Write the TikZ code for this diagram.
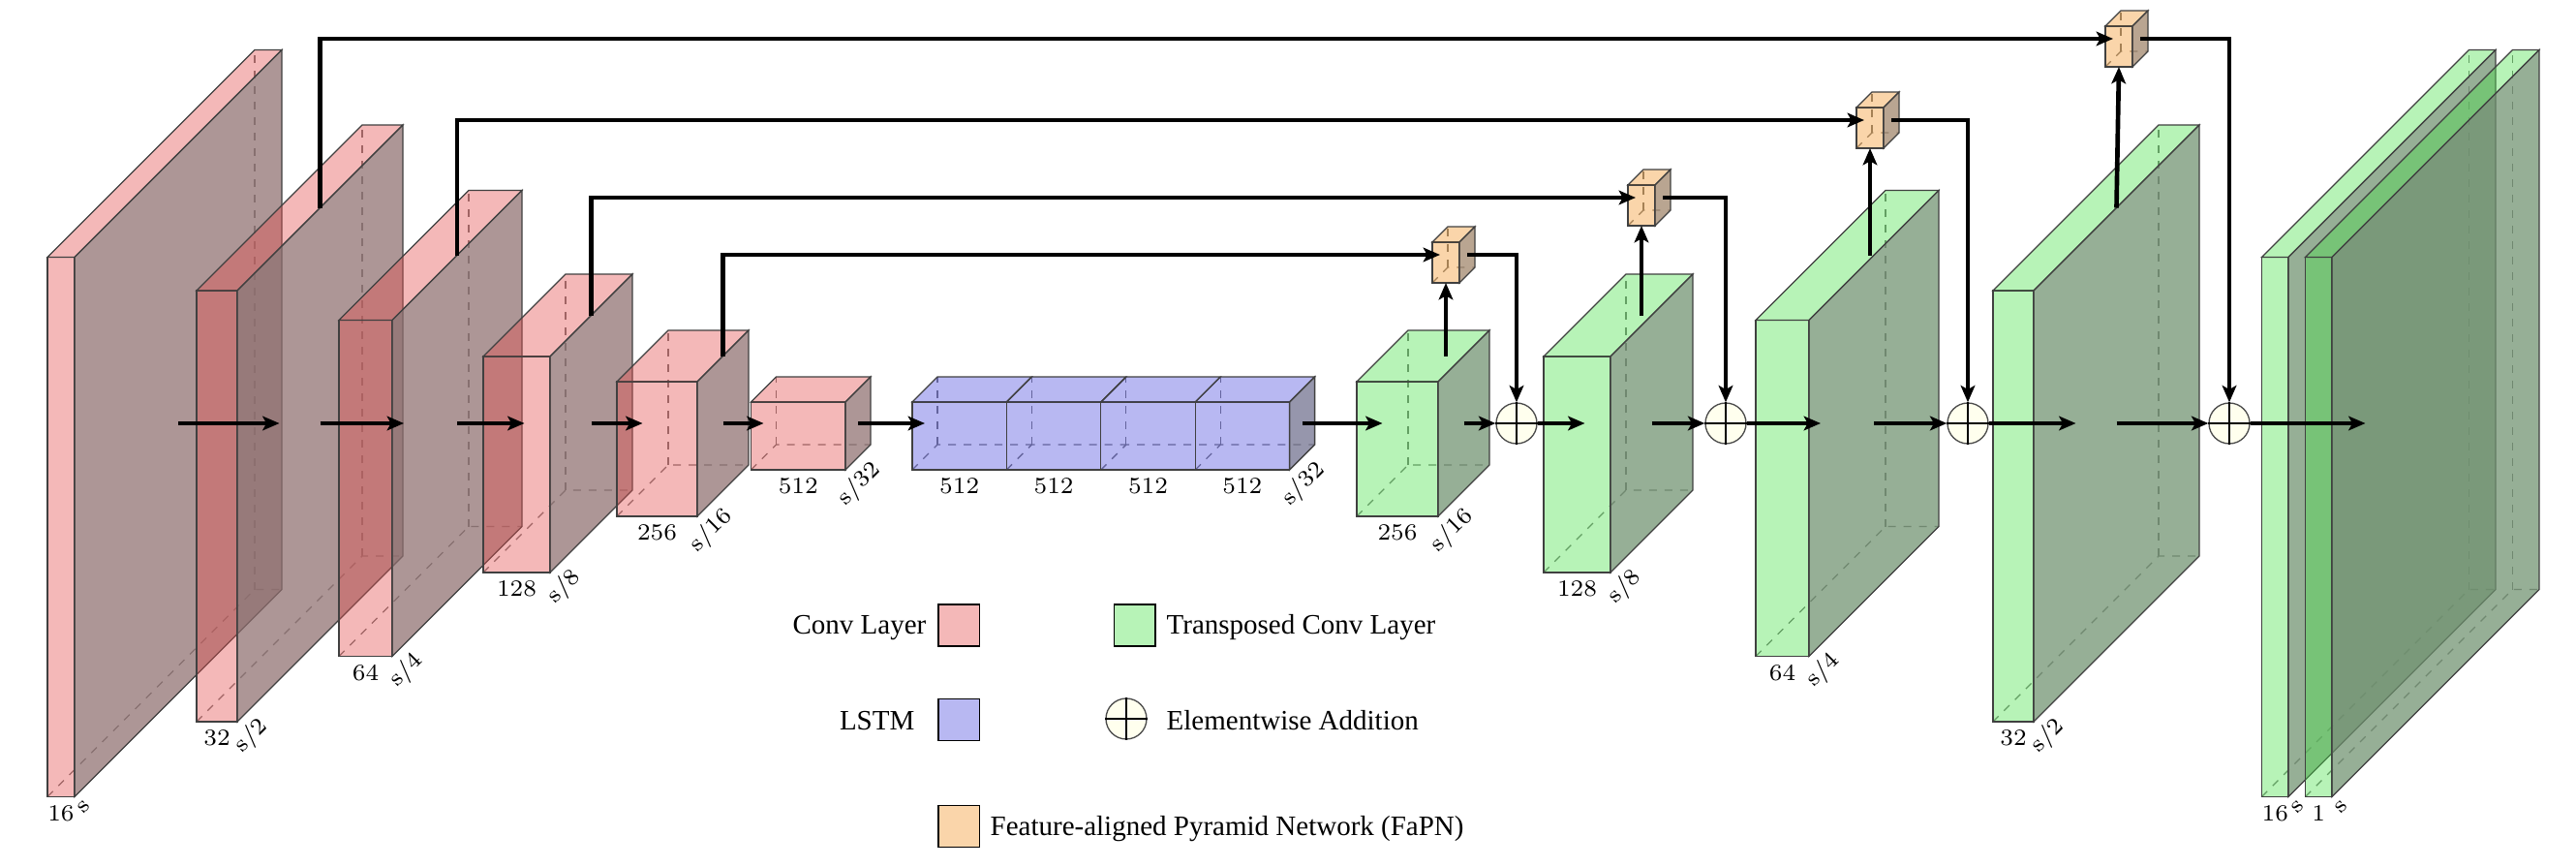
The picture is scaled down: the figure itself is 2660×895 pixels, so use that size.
\documentclass[tikz,border=0pt]{standalone}
\usepackage{fontspec}
\newfontfamily\legendfont{Liberation Serif}
\usetikzlibrary{arrows.meta}

\definecolor{convfront}{RGB}{228,78,78}
\definecolor{convside}{RGB}{143,111,111}
\definecolor{lstmfront}{RGB}{78,78,222}
\definecolor{lstmside}{RGB}{111,111,141}
\definecolor{deconvfront}{RGB}{75,225,75}
\definecolor{deconvside}{RGB}{111,145,111}
\definecolor{fapnfront}{RGB}{242,150,42}
\definecolor{fapnside}{RGB}{159,132,104}
\definecolor{sumfill}{RGB}{255,255,238}

\tikzset{every picture/.style={line width=0.4pt}}
\tikzset{
  face/.style={draw=black!75, fill opacity=0.4},
  sideface/.style={draw=black!75, fill opacity=0.73},
  hidden/.style={draw=black!55, dash pattern=on 2.4pt off 2.4pt},
  conn/.style={line width=1.4pt, -{Stealth[length=5.2pt,width=4.4pt,inset=1.2pt]}},
  dimlabel/.style={anchor=north, inner sep=2.4pt, font=\fontsize{7.2}{8.6}\selectfont},
  sizelabel/.style={dimlabel, rotate=45},
  legendtext/.style={inner sep=0pt, font=\legendfont\fontsize{8.7}{10.4}\selectfont},
  swatch/.style={draw=black, line width=0.5pt, fill opacity=0.4, minimum width=12.75pt, minimum height=12.9pt, inner sep=0pt},
  sumball/.style={circle, draw=black!70, fill=sumfill, minimum size=12.6pt, inner sep=0pt},
}

% cube: name, left x, centre y, width, height, depth, colour
\newcommand{\cubefaces}[7]{%
  \coordinate (#1-fbl) at ({#2},{#3+(#6)/2+(#5)/2});
  \coordinate (#1-fbr) at ({#2+#4},{#3+(#6)/2+(#5)/2});
  \coordinate (#1-ftl) at ({#2},{#3+(#6)/2-(#5)/2});
  \coordinate (#1-ftr) at ({#2+#4},{#3+(#6)/2-(#5)/2});
  \coordinate (#1-bbl) at ({#2+#6},{#3-(#6)/2+(#5)/2});
  \coordinate (#1-bbr) at ({#2+#4+#6},{#3-(#6)/2+(#5)/2});
  \coordinate (#1-btl) at ({#2+#6},{#3-(#6)/2-(#5)/2});
  \coordinate (#1-btr) at ({#2+#4+#6},{#3-(#6)/2-(#5)/2});
  \coordinate (#1-west) at ({#2+(#6)/2},{#3});
  \coordinate (#1-east) at ({#2+#4+(#6)/2},{#3});
  \coordinate (#1-top) at ({#2+#4+(#6)/2},{#3-(#5)/2});
  \coordinate (#1-bottom) at ({#2+(#4)/2},{#3+(#6)/2+(#5)/2});
  \draw [hidden] (#1-fbl) -- (#1-bbl) -- (#1-bbr);
  \draw [hidden] (#1-bbl) -- (#1-btl);
  \draw [face, fill=#7] (#1-fbl) rectangle (#1-ftr);
  \draw [face, fill=#7] (#1-ftl) -- (#1-btl) -- (#1-btr) -- (#1-ftr) -- cycle;
}
% right side of a cube: name, colour
\newcommand{\cubeside}[2]{%
  \draw [sideface, fill=#2] (#1-fbr) -- (#1-ftr) -- (#1-btr) -- (#1-bbr) -- cycle;
}

\begin{document}
\begin{tikzpicture}[x=0.3pt,y=0.3pt,yscale=-1,xscale=1]
\path [use as bounding box] (0,0) rectangle (2660,895);

% Cube: encoder
\cubefaces{e1}{49}{437}{28}{557}{214}{convfront} \cubeside{e1}{convside}
\cubefaces{e2}{203}{437}{42}{445}{171}{convfront} \cubeside{e2}{convside}
\cubefaces{e3}{350}{437}{55}{347}{134}{convfront} \cubeside{e3}{convside}
\cubefaces{e4}{499}{437}{69}{223}{85}{convfront} \cubeside{e4}{convside}
\cubefaces{e5}{637}{437}{83}{139}{53}{convfront} \cubeside{e5}{convside}
\cubefaces{e6}{775.5}{437}{97.5}{70}{26}{convfront} \cubeside{e6}{convside}

% Cube: LSTM
\cubefaces{l1}{942}{437}{97.4}{70}{26}{lstmfront}
\cubefaces{l2}{1039.4}{437}{97.4}{70}{26}{lstmfront}
\cubefaces{l3}{1136.8}{437}{97.4}{70}{26}{lstmfront}
\cubefaces{l4}{1234.2}{437}{97.4}{70}{26}{lstmfront} \cubeside{l4}{lstmside}

% Cube: decoder
\cubefaces{d1}{1401}{437}{84}{139}{53}{deconvfront} \cubeside{d1}{deconvside}
\cubefaces{d2}{1594}{437}{69}{223}{85}{deconvfront} \cubeside{d2}{deconvside}
\cubefaces{d3}{1813}{437}{55}{347}{134}{deconvfront} \cubeside{d3}{deconvside}
\cubefaces{d4}{2058}{437}{42}{445}{171}{deconvfront} \cubeside{d4}{deconvside}
\cubefaces{o1}{2335.5}{437}{27.5}{557}{214}{deconvfront} \cubeside{o1}{deconvside}
\cubefaces{o2}{2380.5}{437}{27.5}{557}{214}{deconvfront} \cubeside{o2}{deconvside}

% Cube: FaPN
\cubefaces{f1}{1479}{263}{28}{42}{16}{fapnfront} \cubeside{f1}{fapnside}
\cubefaces{f2}{1681}{204}{28}{42}{16}{fapnfront} \cubeside{f2}{fapnside}
\cubefaces{f3}{1917}{124}{28}{42}{16}{fapnfront} \cubeside{f3}{fapnside}
\cubefaces{f4}{2174}{40}{28}{42}{16}{fapnfront} \cubeside{f4}{fapnside}

%Shape: Circle
\node [sumball] (b1) at (1566,437) {};
\draw (b1.north) -- (b1.south) (b1.west) -- (b1.east);
\node [sumball] (b2) at (1782,437) {};
\draw (b2.north) -- (b2.south) (b2.west) -- (b2.east);
\node [sumball] (b3) at (2032,437) {};
\draw (b3.north) -- (b3.south) (b3.west) -- (b3.east);
\node [sumball] (b4) at (2302,437) {};
\draw (b4.north) -- (b4.south) (b4.west) -- (b4.east);

%Straight Lines
\draw [conn] (e1-east) -- (e2-west);
\draw [conn] (e2-east) -- (e3-west);
\draw [conn] (e3-east) -- (e4-west);
\draw [conn] (e4-east) -- (e5-west);
\draw [conn] (e5-east) -- (e6-west);
\draw [conn] (e6-east) -- (l1-west);
\draw [conn] (l4-east) -- (d1-west);
\draw [conn] (d1-east) -- (b1.west);
\draw [conn] (b1.east) -- (d2-west);
\draw [conn] (d2-east) -- (b2.west);
\draw [conn] (b2.east) -- (d3-west);
\draw [conn] (d3-east) -- (b3.west);
\draw [conn] (b3.east) -- (d4-west);
\draw [conn] (d4-east) -- (b4.west);
\draw [conn] (b4.east) -- (o1-west);

% skip connections
\draw [conn] (e5-top) |- (f1-west);
\draw [conn] (e4-top) |- (f2-west);
\draw [conn] (e3-top) |- (f3-west);
\draw [conn] (e2-top) |- (f4-west);
\draw [conn] (f1-bottom |- d1-top) -- (f1-bottom);
\draw [conn] (f2-bottom |- d2-top) -- (f2-bottom);
\draw [conn] (f3-bottom |- d3-top) -- (f3-bottom);
\draw [conn] (d4-top) -- (f4-bottom);
\draw [conn] (f1-east) -| (b1.north);
\draw [conn] (f2-east) -| (b2.north);
\draw [conn] (f3-east) -| (b3.north);
\draw [conn] (f4-east) -| (b4.north);

% Text Node
\node [dimlabel] (e1-ch) at (e1-bottom) {16};
\node [sizelabel] (e1-sz) at (e1-fbr) {s};
\node [dimlabel] (e2-ch) at (e2-bottom) {32};
\node [sizelabel] (e2-sz) at (e2-fbr) {s/2};
\node [dimlabel] (e3-ch) at (e3-bottom) {64};
\node [sizelabel] (e3-sz) at (e3-fbr) {s/4};
\node [dimlabel] (e4-ch) at (e4-bottom) {128};
\node [sizelabel] (e4-sz) at (e4-fbr) {s/8};
\node [dimlabel] (e5-ch) at (e5-bottom) {256};
\node [sizelabel] (e5-sz) at (e5-fbr) {s/16};
\node [dimlabel] (e6-ch) at (e6-bottom) {512};
\node [sizelabel] (e6-sz) at (e6-fbr) {s/32};
\node [dimlabel] (l1-ch) at (l1-bottom) {512};
\node [dimlabel] (l2-ch) at (l2-bottom) {512};
\node [dimlabel] (l3-ch) at (l3-bottom) {512};
\node [dimlabel] (l4-ch) at (l4-bottom) {512};
\node [sizelabel] (l4-sz) at (l4-fbr) {s/32};
\node [dimlabel] (d1-ch) at (d1-bottom) {256};
\node [sizelabel] (d1-sz) at (d1-fbr) {s/16};
\node [dimlabel] (d2-ch) at (d2-bottom) {128};
\node [sizelabel] (d2-sz) at (d2-fbr) {s/8};
\node [dimlabel] (d3-ch) at (d3-bottom) {64};
\node [sizelabel] (d3-sz) at (d3-fbr) {s/4};
\node [dimlabel] (d4-ch) at (d4-bottom) {32};
\node [sizelabel] (d4-sz) at (d4-fbr) {s/2};
\node [dimlabel] (o1-ch) at (o1-bottom) {16};
\node [sizelabel] (o1-sz) at (o1-fbr) {s};
\node [dimlabel] (o2-ch) at (o2-bottom) {1};
\node [sizelabel] (o2-sz) at (o2-fbr) {s};

% legend
\node [swatch, fill=convfront] (key-conv) at (990.25,645.5) {};
\node [legendtext, anchor=base east] (key-conv-text) at (957,654) {Conv Layer};
\node [swatch, fill=deconvfront] (key-deconv) at (1171.8,645.5) {};
\node [legendtext, anchor=base west] (key-deconv-text) at (1204,654) {Transposed Conv Layer};
\node [swatch, fill=lstmfront] (key-lstm) at (990.25,743) {};
\node [legendtext, anchor=base east] (key-lstm-text) at (945,753) {LSTM};
\node [sumball] (key-sum) at (1163,742) {};
\draw (key-sum.north) -- (key-sum.south) (key-sum.west) -- (key-sum.east);
\node [legendtext, anchor=base west] (key-sum-text) at (1204,753) {Elementwise Addition};
\node [swatch, fill=fapnfront] (key-fapn) at (990.25,853) {};
\node [legendtext, anchor=base west] (key-fapn-text) at (1022,862) {Feature-aligned Pyramid Network (FaPN)};

\end{tikzpicture}
\end{document}
